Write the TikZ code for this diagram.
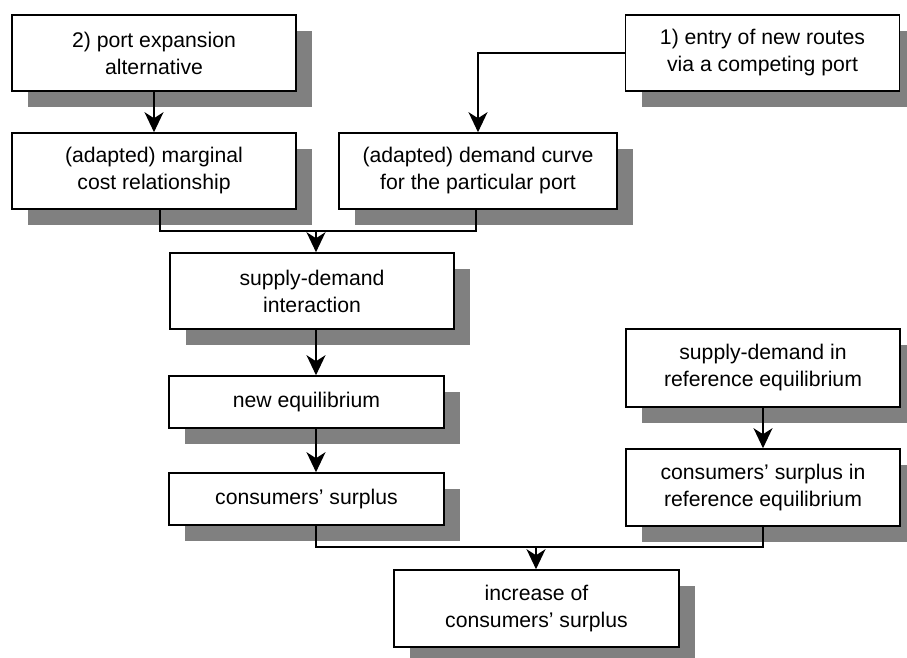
\documentclass[tikz,border=0pt]{standalone}
\usepackage{fontspec}
\setmainfont{Liberation Sans}
\usetikzlibrary{arrows.meta,shadows}
\begin{document}
\begin{tikzpicture}[x=1pt,y=-1pt,
  box/.style={draw, line width=1.6pt, fill=white, align=center, inner sep=0pt,
    font=\fontsize{21.2}{27}\selectfont,
    drop shadow={shadow xshift=16pt, shadow yshift=-16pt, fill=black!50, opacity=1, draw=none}},
  link/.style={line width=1.3pt},
  arr/.style={link, -{Stealth[length=20pt,width=19pt,inset=6pt]}}]
\useasboundingbox (0,0) rectangle (907,657);

% left column: causes and their first effects
\node[box, minimum width=284pt, minimum height=76pt] (pe) at (154,53) {2) port expansion\\alternative};
\node[box, minimum width=274pt, minimum height=76pt] (en) at (762.5,53) {1) entry of new routes\\via a competing port};
\node[box, minimum width=284pt, minimum height=76pt] (mc) at (154,171) {(adapted) marginal\\cost relationship};
\node[box, minimum width=278pt, minimum height=76pt] (dc) at (478,171) {(adapted) demand curve\\for the particular port};

% middle chain
\node[box, minimum width=284pt, minimum height=76pt] (sd) at (312,291) {supply-demand\\interaction};
\node[box, minimum width=275pt, minimum height=52pt] (ne) at (306.5,402) {new equilibrium};
\node[box, minimum width=275pt, minimum height=52pt] (cs) at (306.5,499) {consumers’ surplus};

% reference branch
\node[box, minimum width=274pt, minimum height=78pt] (rsd) at (763,368) {supply-demand in\\reference equilibrium};
\node[box, minimum width=274pt, minimum height=77pt] (rcs) at (763,487.5) {consumers’ surplus in\\reference equilibrium};

% result
\node[box, minimum width=285pt, minimum height=77pt] (inc) at (536.5,608.5) {increase of\\consumers’ surplus};

% junction points of the merging connectors
\coordinate (j1) at (316,231);
\coordinate (j2) at (536,547);

\draw[arr] (pe.south) -- (mc.north);
\draw[arr] (en.west) -| (dc.north);
\draw[link] ([xshift=6pt]mc.south) |- (j1) -| ([xshift=-2pt]dc.south);
\draw[arr] (j1) -- (sd.north -| j1);
\draw[arr] (sd.south -| j1) -- (ne.north -| j1);
\draw[arr] (ne.south -| j1) -- (cs.north -| j1);
\draw[arr] (rsd.south) -- (rcs.north);
\draw[link] (cs.south -| j1) |- (j2) -| (rcs.south);
\draw[arr] (j2) -- (inc.north -| j2);
\end{tikzpicture}
\end{document}
